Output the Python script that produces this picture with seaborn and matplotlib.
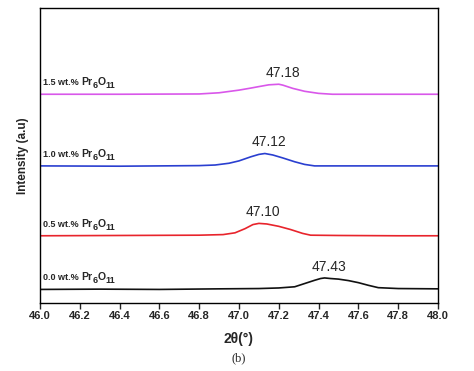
import numpy as np
import pandas as pd
import matplotlib
matplotlib.use('Agg')
import matplotlib.pyplot as plt
import seaborn as sns

# XRD peak region around 47 deg, stacked traces (arbitrary intensity units)
x_00 = [46.0, 46.3, 46.6, 46.9, 47.1, 47.2, 47.28, 47.33, 47.38, 47.41, 47.43, 47.46, 47.5, 47.55, 47.6, 47.65, 47.7, 47.8, 48.0]
y_00 = [4.6, 4.7, 4.6, 4.8, 4.9, 5.1, 5.5, 6.6, 7.7, 8.3, 8.5, 8.3, 8.1, 7.6, 6.9, 6.0, 5.2, 4.9, 4.8]

x_05 = [46.0, 46.4, 46.8, 46.92, 46.98, 47.03, 47.07, 47.10, 47.14, 47.2, 47.26, 47.32, 47.36, 47.5, 47.8, 48.0]
y_05 = [22.8, 22.9, 23.0, 23.2, 23.8, 25.2, 26.6, 27.0, 26.8, 26.0, 24.9, 23.6, 23.0, 22.9, 22.8, 22.8]

x_10 = [46.0, 46.4, 46.8, 46.88, 46.95, 47.0, 47.06, 47.1, 47.13, 47.17, 47.22, 47.28, 47.33, 47.38, 47.6, 48.0]
y_10 = [46.5, 46.4, 46.6, 46.8, 47.4, 48.2, 49.6, 50.4, 50.7, 50.2, 49.2, 47.9, 47.0, 46.5, 46.5, 46.5]

x_15 = [46.0, 46.4, 46.8, 46.9, 47.0, 47.06, 47.1, 47.15, 47.2, 47.22, 47.27, 47.33, 47.4, 47.47, 47.7, 48.0]
y_15 = [70.8, 70.8, 70.9, 71.3, 72.2, 72.9, 73.4, 74.0, 74.2, 73.9, 72.8, 71.8, 71.1, 70.8, 70.8, 70.8]

samples = ['0.0', '0.5', '1.0', '1.5']
peaks = ['47.43', '47.10', '47.12', '47.18']
xs = [x_00, x_05, x_10, x_15]
ys = [y_00, y_05, y_10, y_15]
colours = ['#111111', '#e8242c', '#2a3fd0', '#d957ea']

df = pd.concat([pd.DataFrame({'2theta': x, 'I': y, 'sample': s})
                for x, y, s in zip(xs, ys, samples)], ignore_index=True)

sns.set_style('ticks')
plt.rcParams['font.family'] = ['Liberation Sans', 'DejaVu Sans']

fig = plt.figure(figsize=(4.74, 3.71), dpi=100)
ax = fig.add_axes([0.0844, 0.1833, 0.8396, 0.7947])

sns.lineplot(data=df, x='2theta', y='I', hue='sample', palette=dict(zip(samples, colours)),
             linewidth=1.2, legend=False, ax=ax)

# formula pieces: (text, size, vertical shift in points relative to previous piece)
formula = [('Pr', 7.5, 0), ('6', 6.5, -2.2), ('O', 7.5, 2.2), ('11', 6.5, -2.2)]

# sample labels and peak positions
for x, y, s, p in zip(xs, ys, samples, peaks):
    base = y[0]
    prev = ax.text(46.015, base + 2.4, s + ' wt.% ', fontsize=6.5,
                   fontweight='bold', ha='left', va='bottom')
    for txt, size, dy in formula:
        prev = ax.annotate(txt, xy=(1, 0), xycoords=prev, xytext=(0, dy),
                           textcoords='offset points', fontsize=size,
                           fontweight='bold', ha='left', va='bottom')
    top = max(y)
    xp = x[int(np.argmax(y))]
    ax.text(xp + 0.02, top + 1.4, p, fontsize=10, ha='center', va='bottom')

ax.set_xlim(46.0, 48.0)
ax.set_ylim(0, 100)
ax.set_xticks(np.arange(46.0, 48.01, 0.2))
ax.set_xticklabels([f'{t:.1f}' for t in np.arange(46.0, 48.01, 0.2)], fontweight='bold', fontsize=8)
ax.set_yticks([])
ax.tick_params(axis='x', direction='out', length=4, width=1, pad=2)
for sp in ax.spines.values():
    sp.set_linewidth(1)
    sp.set_color('black')

ax.set_xlabel('2θ(°)', fontsize=10, fontweight='bold', labelpad=8)
ax.set_ylabel('Intensity (a.u)', fontsize=8.5, fontweight='bold', labelpad=8)
fig.text(0.5 * (0.0844 + 0.924), (371 - 358) / 371, '(b)', fontsize=9,
         family='Liberation Serif', ha='center', va='center')

fig.savefig('out.png', dpi=100)
